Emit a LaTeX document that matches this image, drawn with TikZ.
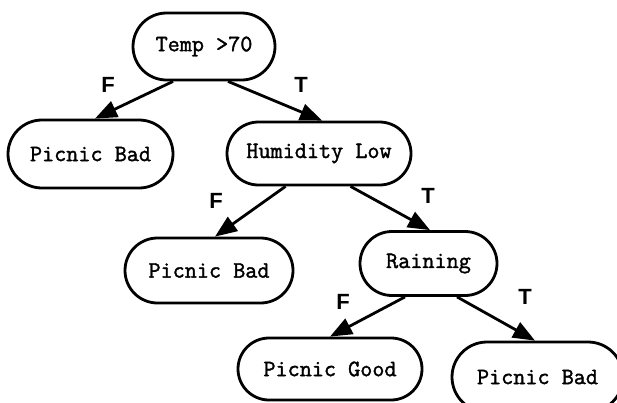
\documentclass[tikz,border=0pt]{standalone}
\usepackage{fontspec}
\setmainfont{Liberation Sans}
\setsansfont{Liberation Sans}
\newfontfamily\boxfont{Latin Modern Mono}[FakeBold=1.6]
\usetikzlibrary{shapes.misc,arrows.meta,calc}
\begin{document}
\begin{tikzpicture}[x=1pt,y=-1pt,
  decision/.style={rounded rectangle, draw, line width=2.8pt, inner sep=0pt,
    font=\boxfont\fontsize{23.5}{26}\selectfont},
  branch/.style={line width=2.8pt, -{Triangle[length=22pt,width=17pt]}},
  lab/.style={font=\sffamily\bfseries\fontsize{22}{24}\selectfont, inner sep=0pt}]
\useasboundingbox (0,0) rectangle (617,402);
\clip (0,0) rectangle (617,402);

\node[decision, minimum width=142pt, minimum height=67pt] (temp) at (204,46.5) {Temp >70};
\node[decision, minimum width=165pt, minimum height=68pt] (pb1) at (90.5,154) {Picnic Bad};
\node[decision, minimum width=184pt, minimum height=63pt] (hum) at (319,153.5) {Humidity Low};
\node[decision, minimum width=168pt, minimum height=65pt] (pb2) at (209,270.5) {Picnic Bad};
\node[decision, minimum width=137pt, minimum height=64pt] (rain) at (428.5,263.5) {Raining};
\node[decision, minimum width=184pt, minimum height=62pt] (pg) at (330,369) {Picnic Good};
\node[decision, minimum width=171pt, minimum height=70pt] (pb3) at (537.5,377) {Picnic Bad};

\draw[branch] ([xshift=-31pt]temp.south) -- ([xshift=4.5pt]pb1.north);
\draw[branch] ([xshift=24pt]temp.south) -- ([xshift=3pt]hum.north);
\draw[branch] ([xshift=-33.5pt]hum.south) -- ([xshift=6pt]pb2.north);
\draw[branch] ([xshift=31.5pt]hum.south) -- ([xshift=1.5pt]rain.north);
\draw[branch] ([xshift=-23.5pt]rain.south) -- ([xshift=0pt]pg.north);
\draw[branch] ([xshift=28.5pt]rain.south) -- ([xshift=-2.5pt]pb3.north);

\node[lab] (f1) at (108,85) {F};
\node[lab] (t1) at (301,85) {T};
\node[lab] (f2) at (216,201) {F};
\node[lab] (t2) at (428,196) {T};
\node[lab] (f3) at (343,302) {F};
\node[lab] (t3) at (525,297) {T};
\end{tikzpicture}
\end{document}
